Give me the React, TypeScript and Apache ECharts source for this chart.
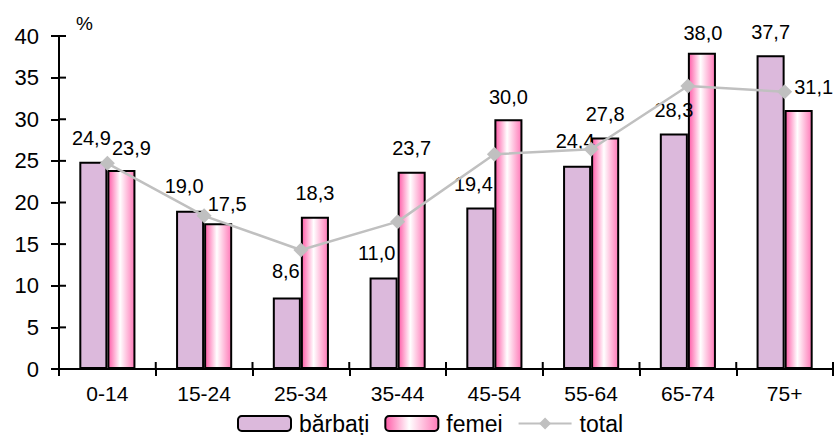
import React, { useEffect, useRef } from "react";
import * as echarts from "echarts";

const categories = ["0-14", "15-24", "25-34", "35-44", "45-54", "55-64", "65-74", "75+"];
const barbati = [24.9, 19.0, 8.6, 11.0, 19.4, 24.4, 28.3, 37.7];
const femei = [23.9, 17.5, 18.3, 23.7, 30.0, 27.8, 38.0, 31.1];
const total = [24.7, 18.4, 14.3, 17.7, 25.8, 26.4, 34.0, 33.3];
const yTicks = { min: 0, max: 40, interval: 5 };

// label placement tweaks (style only)
const barbatiLabelOffset: [number, number][] = [[-2, -9], [-6, -10], [-1, -11], [-7, -9], [-7, -8], [-2, -10], [0, -8], [0, -8]];
const femeiLabelOffset: [number, number][] = [[10, -7], [9, -4], [0, -9], [0, -9], [0, -7], [0, -9], [1, -5], [15, -8]];

const FONT = "'Liberation Sans', Arial, sans-serif";
const fmt = (v: number) => v.toFixed(1).replace(".", ",");

export default function App() {
  const ref = useRef<HTMLDivElement>(null);
  useEffect(() => {
    if (!ref.current) return;
    const chart = echarts.init(ref.current, null, { renderer: "svg" });
    const femeiFill = new echarts.graphic.LinearGradient(0, 0, 1, 0, [
      { offset: 0, color: "#FF5CA8" },
      { offset: 0.45, color: "#FFFFFF" },
      { offset: 1, color: "#FF7AB8" },
    ]);
    const labelBase = {
      show: true,
      position: "top" as const,
      distance: 5,
      fontSize: 20,
      fontFamily: FONT,
      color: "#000",
      formatter: (p: any) => fmt(p.value),
    };
    const axisLineStyle = { color: "#000", width: 2 };
    chart.setOption({
      animation: false,
      textStyle: { fontFamily: FONT },
      grid: { left: 59, right: 1, top: 36, bottom: 66, containLabel: false },
      xAxis: {
        type: "category",
        data: categories,
        boundaryGap: true,
        axisLine: { show: true, lineStyle: axisLineStyle },
        axisTick: { show: true, length: 7, lineStyle: axisLineStyle },
        axisLabel: { fontSize: 21, color: "#000", margin: 14, fontFamily: FONT },
      },
      yAxis: {
        type: "value",
        min: yTicks.min,
        max: yTicks.max,
        interval: yTicks.interval,
        splitLine: { show: false },
        axisLine: { show: true, lineStyle: axisLineStyle },
        axisTick: { show: true, length: 8, lineStyle: axisLineStyle },
        axisLabel: { fontSize: 22, color: "#000", margin: 20, fontFamily: FONT },
      },
      legend: {
        left: 232,
        top: 407,
        itemWidth: 53,
        itemHeight: 15,
        itemGap: 15,
        textStyle: { fontSize: 23, color: "#000", fontFamily: FONT, padding: [0, 0, 0, 3] },
        data: ["bărbați", "femei", "total"],
      },
      series: [
        {
          name: "bărbați",
          type: "bar",
          barGap: "0%",
          barCategoryGap: "42%",
          itemStyle: { color: "#DCB9DC", borderColor: "#000", borderWidth: 2 },
          data: barbati.map((v, i) => ({ value: v, label: { offset: barbatiLabelOffset[i] } })),
          label: labelBase,
          z: 2,
        },
        {
          name: "femei",
          type: "bar",
          itemStyle: { color: femeiFill, borderColor: "#000", borderWidth: 2 },
          data: femei.map((v, i) => ({ value: v, label: { offset: femeiLabelOffset[i] } })),
          label: labelBase,
          z: 2,
        },
        {
          name: "total",
          type: "line",
          data: total,
          symbol: "diamond",
          symbolSize: 15,
          lineStyle: { color: "#C0C0C0", width: 2.5 },
          itemStyle: { color: "#C0C0C0" },
          z: 3,
        },
      ],
    });

    // inner halves of the crossing tick marks, placed through the axes' own scales
    const xAxisY = chart.convertToPixel({ yAxisIndex: 0 }, yTicks.min) as number;
    const c0 = chart.convertToPixel({ xAxisIndex: 0 }, categories[0]) as number;
    const step = (chart.convertToPixel({ xAxisIndex: 0 }, categories[1]) as number) - c0;
    const leftEdge = c0 - step / 2;
    const tickEls: any[] = [];
    for (let v = yTicks.min; v <= yTicks.max; v += yTicks.interval) {
      const y = chart.convertToPixel({ yAxisIndex: 0 }, v) as number;
      tickEls.push({ type: "line", shape: { x1: leftEdge, y1: y, x2: leftEdge + 7, y2: y }, style: { stroke: "#000", lineWidth: 2 } });
    }
    for (let i = 0; i <= categories.length; i++) {
      const x = leftEdge + i * step;
      tickEls.push({ type: "line", shape: { x1: x, y1: xAxisY, x2: x, y2: xAxisY - 7 }, style: { stroke: "#000", lineWidth: 2 } });
    }
    chart.setOption({
      graphic: [
        { type: "text", left: 76, top: 14, style: { text: "%", fill: "#000", font: `19px ${FONT}` } },
        ...tickEls,
      ],
    });
    return () => chart.dispose();
  }, []);
  return <div ref={ref} style={{ position: "absolute", left: 0, top: 0, width: 834, height: 435 }} />;
}
